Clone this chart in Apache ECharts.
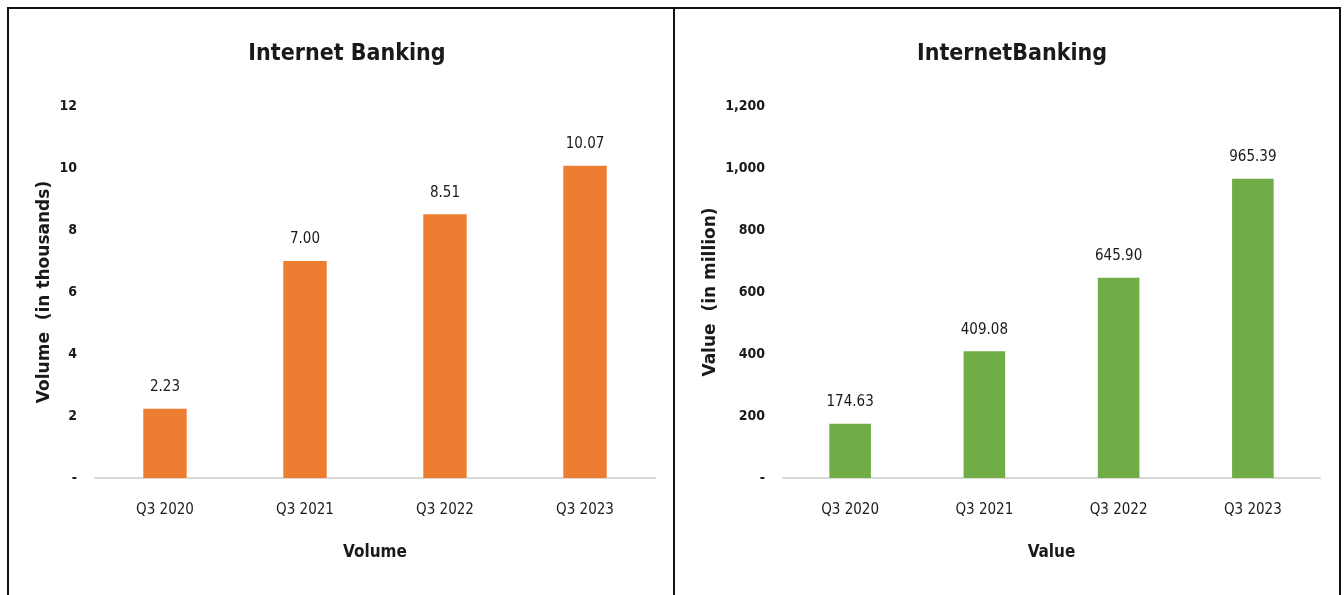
<!DOCTYPE html>
<html>
<head>
<meta charset="utf-8">
<script src="https://cdn.jsdelivr.net/npm/echarts@6/dist/echarts.min.js"></script>
<style>
  html, body { margin: 0; padding: 0; background: #fff; }
  #chart { width: 1344px; height: 595px; }
  .frame { position: absolute; border: 2px solid #111; border-bottom: none; top: 7px; height: 595px; box-sizing: border-box; pointer-events: none; }
</style>
</head>
<body>
<div id="chart"></div>
<div class="frame" style="left:7px;width:668px;"></div>
<div class="frame" style="left:673px;width:668px;"></div>
<script>
const categories = ['Q3 2020', 'Q3 2021', 'Q3 2022', 'Q3 2023'];
const volumeValues = [2.23, 7.00, 8.51, 10.07];
const valueValues = [174.63, 409.08, 645.90, 965.39];
const volumeTicks = { min: 0, max: 12, interval: 2 };
const valueTicks = { min: 0, max: 1200, interval: 200 };

const font = "'Liberation Sans Narrow', 'DejaVu Sans Condensed', sans-serif";
const txt = '#1a1a1a';

const chart = echarts.init(document.getElementById('chart'));

const fmtComma = v => v === 0 ? '-' : v.toLocaleString('en-US');

const xAxisBase = (gridIndex, name) => ({
  type: 'category',
  gridIndex,
  data: categories,
  name,
  nameLocation: 'middle',
  nameGap: 66,
  nameTextStyle: { fontFamily: font, fontSize: 17, fontWeight: 'bold', color: txt },
  axisTick: { show: false },
  axisLine: { lineStyle: { color: '#d9d9d9', width: 2 } },
  axisLabel: { fontFamily: font, fontSize: 15, color: txt, margin: 25 }
});

const yAxisBase = (gridIndex, name, ticks, gap) => ({
  type: 'value',
  gridIndex,
  min: ticks.min,
  max: ticks.max,
  interval: ticks.interval,
  name,
  nameLocation: 'middle',
  nameGap: gap,
  nameTextStyle: { fontFamily: "'DejaVu Sans', sans-serif", fontSize: 17, fontWeight: 'bold', color: txt },
  splitLine: { show: false },
  axisLine: { show: false },
  axisTick: { show: false },
  axisLabel: { fontFamily: font, fontSize: 14, fontWeight: 'bold', color: txt, margin: 18, formatter: fmtComma }
});

chart.setOption({
  animation: false,
  title: [
    { text: 'Internet Banking', left: 342, top: 38, textAlign: 'center',
      textStyle: { fontFamily: font, fontSize: 23, fontWeight: 'bold', color: txt } },
    { text: 'InternetBanking', left: 1007, top: 38, textAlign: 'center',
      textStyle: { fontFamily: font, fontSize: 23, fontWeight: 'bold', color: txt } }
  ],
  grid: [
    { left: 95, right: 689, top: 106, bottom: 117 },
    { left: 783, right: 24, top: 106, bottom: 117 }
  ],
  xAxis: [xAxisBase(0, 'Volume'), xAxisBase(1, 'Value')],
  yAxis: [
    yAxisBase(0, 'Volume  (in thousands)', volumeTicks, 42),
    yAxisBase(1, 'Value  (in million)', valueTicks, 64)
  ],
  series: [
    {
      type: 'bar', xAxisIndex: 0, yAxisIndex: 0,
      data: volumeValues, barWidth: '31%',
      itemStyle: { color: '#ED7D31' },
      label: { show: true, position: 'top', distance: 14, formatter: p => p.value.toFixed(2),
        fontFamily: font, fontSize: 15, color: txt }
    },
    {
      type: 'bar', xAxisIndex: 1, yAxisIndex: 1,
      data: valueValues, barWidth: '31%',
      itemStyle: { color: '#70AD47' },
      label: { show: true, position: 'top', distance: 14, formatter: p => p.value.toFixed(2),
        fontFamily: font, fontSize: 15, color: txt }
    }
  ]
});
</script>
</body>
</html>
